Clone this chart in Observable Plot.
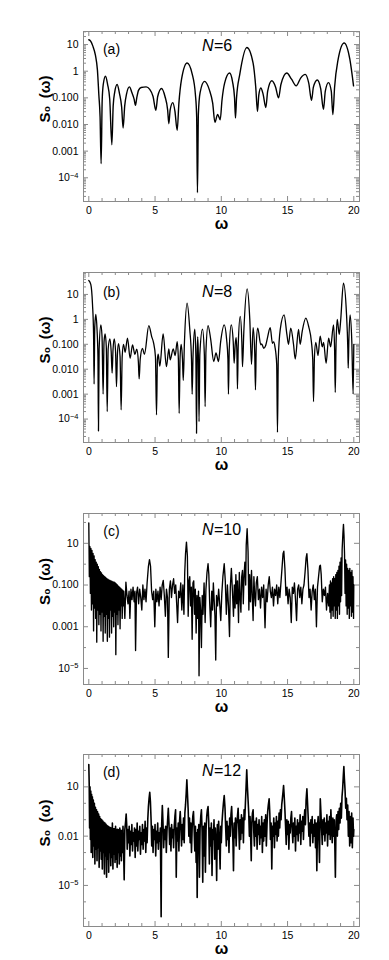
<!DOCTYPE html>
<html><head><meta charset="utf-8">
<script src="https://cdn.jsdelivr.net/npm/d3@7"></script>
<script src="https://cdn.jsdelivr.net/npm/@observablehq/plot@0.6"></script>
<style>
body{margin:0;background:#fff;}
#chart{width:389px;}
#chart > div{height:240px;}
</style></head><body><div id="chart"></div>
<script>
// ---- shared tick values ----
const xTicks = [0, 5, 10, 15, 20];
const xMinor = [1,2,3,4,6,7,8,9,11,12,13,14,16,17,18,19];

const ticksA = [10, 1, 0.1, 0.01, 0.001, 1e-4];
const labelsA = ["10", "1", "0.100", "0.010", "0.001", "10^-4"];
const ticksB = [10, 1, 0.1, 0.01, 0.001, 1e-4];
const labelsB = ["10", "1", "0.100", "0.010", "0.001", "10^-4"];
const ticksC = [10, 0.1, 0.001, 1e-5];
const labelsC = ["10", "0.100", "0.001", "10^-5"];
const ticksD = [10, 0.01, 1e-5];
const labelsD = ["10", "0.01", "10^-5"];

const nLabels = ["6", "8", "10", "12"];
const panelLetters = ["(a)", "(b)", "(c)", "(d)"];

// ---- series: [omega, log10 S0(omega)] ----
const seriesA = [
[0.00,1.18],[0.15,1.12],[0.30,0.95],[0.50,0.6],[0.65,0.05],[0.76,-0.9],[0.85,-1.7],[0.93,-3.47],[1.01,-1.1],[1.09,-0.5],[1.26,-0.19],[1.42,-0.5],[1.58,-1.05],[1.74,-2.76],[1.84,-1.3],[1.95,-0.8],[2.14,-0.5],[2.32,-0.85],[2.48,-1.35],[2.59,-2.13],[2.71,-1.3],[2.85,-0.85],[3.07,-0.59],[3.25,-0.8],[3.42,-1.05],[3.52,-1.28],[3.62,-1.0],[3.75,-0.72],[3.95,-0.61],[4.33,-0.59],[4.6,-0.68],[4.85,-0.95],[5.06,-1.47],[5.2,-0.95],[5.49,-0.65],[5.75,-0.95],[5.95,-1.45],[6.04,-1.97],[6.14,-1.45],[6.34,-1.18],[6.5,-1.5],[6.67,-2.22],[6.8,-1.2],[7.0,-0.3],[7.42,0.31],[7.8,-0.1],[8.05,-0.9],[8.14,-1.7],[8.2,-4.56],[8.27,-1.6],[8.4,-0.8],[8.73,-0.38],[9.1,-0.7],[9.35,-1.2],[9.52,-1.92],[9.72,-1.62],[9.92,-1.82],[10.05,-1.1],[10.25,-0.45],[10.62,-0.07],[10.85,-0.4],[11.0,-1.0],[11.07,-1.76],[11.15,-1.0],[11.4,-0.1],[11.93,0.89],[12.4,0.3],[12.6,-0.6],[12.73,-1.51],[12.83,-0.9],[12.98,-0.63],[13.15,-0.85],[13.36,-1.36],[13.5,-0.75],[13.81,-0.36],[14.1,-0.6],[14.32,-1.0],[14.5,-0.5],[14.94,-0.07],[15.3,-0.3],[15.65,-0.55],[16.0,-0.25],[16.33,-0.12],[16.6,-0.45],[16.81,-1.09],[16.95,-0.6],[17.24,-0.33],[17.5,-0.65],[17.71,-1.43],[17.85,-0.75],[18.09,-0.43],[18.3,-0.75],[18.42,-1.63],[18.55,-0.6],[18.8,0.4],[19.27,1.06],[19.7,0.45],[19.98,-0.55]
];

const seriesB = [
[0.0,1.56],[0.15,1.4],[0.28,0.6],[0.36,-0.6],[0.40,-2.6],[0.45,-0.3],[0.53,0.2],[0.62,-0.4],[0.69,-1.5],[0.73,-4.48],[0.78,-1.2],[0.91,-0.22],[1.0,-0.7],[1.08,-3.0],[1.15,-0.9],[1.23,-0.58],[1.32,-1.1],[1.39,-3.7],[1.46,-1.2],[1.59,-0.78],[1.69,-1.3],[1.76,-2.16],[1.83,-1.2],[1.92,-0.78],[2.02,-1.3],[2.09,-2.7],[2.16,-1.4],[2.24,-0.97],[2.36,-1.5],[2.44,-3.63],[2.52,-1.5],[2.62,-1.0],[2.74,-1.32],[2.92,-0.75],[3.12,-1.56],[3.3,-1.02],[3.48,-1.4],[3.62,-1.2],[3.74,-1.7],[3.8,-2.39],[3.88,-1.6],[4.05,-1.16],[4.2,-1.4],[4.53,-0.25],[4.75,-0.7],[4.88,-0.92],[5.03,-1.5],[5.11,-3.83],[5.18,-1.6],[5.24,-1.4],[5.36,-1.88],[5.61,-0.58],[5.86,-1.9],[6.04,-1.18],[6.14,-1.62],[6.37,-1.18],[6.52,-1.45],[6.67,-0.89],[6.76,-1.6],[6.82,-3.77],[6.89,-1.5],[6.97,-1.0],[7.07,-1.6],[7.13,-2.45],[7.22,-0.9],[7.42,0.65],[7.62,-0.4],[7.75,-1.6],[7.80,-3.0],[7.87,-1.4],[8.0,-0.39],[8.08,-1.5],[8.13,-4.57],[8.18,-1.4],[8.22,-0.7],[8.27,-1.5],[8.32,-4.1],[8.38,-1.4],[8.58,-0.39],[8.72,-1.4],[8.78,-3.5],[8.84,-1.3],[9.0,-0.25],[9.2,-0.8],[9.43,-1.69],[9.6,-1.35],[9.79,-1.69],[9.95,-0.9],[10.22,-0.22],[10.4,-0.8],[10.5,-1.6],[10.54,-3.0],[10.6,-1.2],[10.75,-0.22],[10.9,-0.9],[10.97,-1.76],[11.05,-1.0],[11.12,-0.73],[11.18,-1.4],[11.22,-2.79],[11.28,-1.0],[11.43,0.12],[11.55,-0.9],[11.6,-1.9],[11.7,-0.5],[11.95,1.22],[12.15,0.0],[12.28,-1.8],[12.4,-0.33],[12.52,-1.3],[12.58,-2.83],[12.64,-1.0],[12.75,-0.35],[12.98,-1.02],[13.05,-0.98],[13.2,-1.16],[13.35,-1.05],[13.5,-0.7],[13.69,-0.33],[13.86,-0.96],[13.95,-0.9],[14.05,-1.1],[14.18,-1.8],[14.24,-4.53],[14.3,-1.6],[14.45,-0.4],[14.74,0.18],[14.95,-0.6],[15.07,-1.0],[15.24,-0.35],[15.45,-1.0],[15.58,-1.59],[15.83,-0.4],[15.95,-1.0],[16.1,-0.5],[16.38,0.05],[16.6,-0.3],[16.8,-0.9],[16.9,-1.6],[16.96,-3.3],[17.03,-1.5],[17.13,-0.92],[17.3,-1.45],[17.46,-0.67],[17.62,-1.1],[17.72,-0.92],[17.91,-1.76],[18.1,-0.75],[18.25,-1.1],[18.47,-0.22],[18.55,-1.2],[18.6,-2.93],[18.66,-1.0],[18.75,0.0],[18.9,-0.6],[19.0,-0.1],[19.22,1.45],[19.45,0.2],[19.55,-1.2],[19.58,-1.96],[19.63,-0.8],[19.72,0.18],[19.85,-0.9],[19.95,-3.0],[20.0,-1.0]
];

const seriesC = [
[0.00,1.98],[0.04,-0.6],[0.08,0.85],[0.12,-1.4],[0.16,0.75],[0.20,-2.2],[0.24,0.66],[0.28,-1.9],[0.32,0.52],[0.36,-3.2],[0.40,0.4],[0.44,-2.1],[0.48,0.22],[0.52,-2.6],[0.56,0.1],[0.60,-3.74],[0.64,0.0],[0.68,-2.2],[0.72,-0.12],[0.76,-2.9],[0.80,-0.25],[0.84,-2.4],[0.88,-0.36],[0.92,-3.2],[0.96,-0.42],[1.00,-2.3],[1.04,-0.5],[1.08,-3.7],[1.12,-0.55],[1.16,-2.5],[1.20,-0.6],[1.24,-3.3],[1.28,-0.64],[1.32,-2.4],[1.36,-0.7],[1.40,-3.7],[1.44,-0.72],[1.48,-2.6],[1.52,-0.76],[1.56,-3.5],[1.60,-0.78],[1.64,-2.2],[1.68,-0.8],[1.72,-3.3],[1.76,-0.83],[1.80,-2.5],[1.84,-0.85],[1.88,-3.0],[1.92,-0.86],[1.96,-2.3],[2.00,-0.9],[2.04,-4.34],[2.08,-0.95],[2.12,-2.4],[2.16,-1.0],[2.20,-2.9],[2.24,-1.05],[2.28,-2.2],[2.32,-1.1],[2.36,-3.1],[2.40,-1.15],[2.44,-2.0],[2.48,-1.2],[2.52,-2.6],[2.56,-1.25],[2.60,-2.0],
[2.64,-1.3],[2.72,-2.6],[2.80,-0.86],[2.88,-1.5],[2.96,-1.9],[3.04,-1.3],[3.10,-2.6],[3.18,-1.2],[3.26,-1.7],[3.34,-1.1],[3.42,-1.8],[3.48,-1.3],[3.53,-4.14],[3.60,-1.4],[3.68,-1.1],[3.76,-1.9],[3.84,-1.2],[3.92,-1.6],[4.00,-2.2],[4.08,-1.0],[4.16,-1.7],[4.24,-1.2],[4.32,-1.8],[4.40,-0.9],[4.50,-0.1],[4.58,0.22],[4.66,-0.1],[4.74,-1.3],[4.82,-1.7],[4.90,-1.3],[4.98,-3.0],[5.06,-1.2],[5.14,-1.8],[5.22,-1.3],[5.30,-2.0],[5.38,-1.1],[5.46,-1.7],[5.54,-1.0],[5.62,-0.78],[5.70,-1.5],[5.78,-2.5],[5.86,-1.2],[5.94,-1.6],[6.00,-4.47],[6.08,-1.2],[6.16,-0.8],[6.24,-1.6],[6.32,-1.0],[6.40,-0.7],[6.48,-1.4],[6.56,-1.0],[6.64,-2.0],[6.70,-2.8],[6.78,-1.3],[6.86,-1.6],[6.94,-0.9],[7.02,-2.2],[7.10,-1.0],[7.18,-2.4],[7.24,-0.4],[7.30,0.5],[7.37,1.06],[7.44,0.4],[7.50,-2.5],[7.56,-0.8],[7.62,-0.6],[7.68,-2.0],[7.74,-1.1],[7.80,-3.6],[7.86,-0.9],[7.92,-0.8],[7.98,-2.4],[8.04,-1.2],[8.10,-3.3],[8.16,-1.5],[8.22,-2.6],[8.28,-1.3],[8.32,-5.35],[8.38,-1.6],[8.44,-2.2],[8.50,-4.0],[8.56,-1.5],[8.62,-2.4],[8.70,-0.9],[8.78,-2.8],[8.84,-1.2],[8.92,-0.4],[9.00,0.02],[9.06,-0.5],[9.12,-1.8],[9.20,-3.0],[9.28,-1.3],[9.34,-2.2],[9.40,-0.9],[9.46,-1.7],[9.52,-2.5],[9.58,-4.6],[9.64,-1.5],[9.72,-2.0],[9.80,-1.2],[9.88,-1.9],[9.96,-2.7],[10.04,-1.4],[10.12,-0.6],[10.22,0.02],[10.30,-0.8],[10.38,-2.4],[10.46,-1.0],[10.54,-2.0],[10.62,-3.47],[10.68,-1.1],[10.76,-0.2],[10.84,-1.3],[10.92,-2.5],[10.98,-1.0],[11.04,-2.1],[11.10,-0.5],[11.16,-1.9],[11.22,-0.8],[11.30,-2.8],[11.36,-0.4],[11.42,-1.6],[11.48,-2.3],[11.54,-0.6],[11.60,-0.3],[11.66,-1.9],[11.72,-0.5],[11.78,0.1],[11.84,-1.0],[11.88,0.9],[11.95,1.7],[12.02,0.6],[12.08,-2.2],[12.14,-0.5],[12.20,-1.8],[12.28,-0.3],[12.34,-1.6],[12.40,-2.7],[12.46,-0.6],[12.52,-1.5],[12.58,-2.0],[12.64,-0.9],[12.72,-0.6],[12.80,-1.7],[12.88,-1.2],[12.96,-2.1],[13.04,-1.1],[13.12,-1.6],[13.20,-1.0],[13.30,-3.05],[13.38,-1.2],[13.46,-1.8],[13.54,-1.0],[13.62,-0.6],[13.70,-1.3],[13.78,-1.6],[13.86,-1.1],[13.94,-2.0],[14.02,-1.2],[14.10,-1.5],[14.18,-1.0],[14.26,-1.9],[14.34,-1.1],[14.42,-1.6],[14.50,-0.9],[14.58,-0.2],[14.66,0.5],[14.72,0.62],[14.80,-0.2],[14.88,-1.5],[14.96,-1.1],[15.04,-1.9],[15.12,-1.2],[15.20,-1.6],[15.28,-2.8],[15.36,-1.1],[15.44,-1.4],[15.52,-0.9],[15.60,-1.7],[15.68,-2.7],[15.76,-1.2],[15.84,-1.0],[15.92,-1.6],[16.00,-1.1],[16.08,-1.9],[16.16,-1.2],[16.24,-1.0],[16.32,-0.4],[16.40,0.3],[16.46,0.5],[16.54,-0.3],[16.62,-1.6],[16.70,-1.2],[16.78,-2.2],[16.86,-1.3],[16.94,-1.0],[17.02,-1.7],[17.10,-1.2],[17.18,-3.0],[17.26,-1.1],[17.34,-0.6],[17.42,-0.1],[17.48,-0.05],[17.54,-0.5],[17.62,-1.8],[17.70,-1.2],[17.78,-1.5],[17.86,-1.1],[17.94,-2.2],[18.02,-1.4],[18.10,-2.0],[18.16,-1.0],
[18.20,-2.3],[18.24,-0.8],[18.28,-2.6],[18.32,-0.9],[18.36,-2.2],[18.40,-0.7],[18.44,-2.5],[18.48,-0.6],[18.52,-2.0],[18.56,-0.7],[18.60,-2.6],[18.64,-0.5],[18.68,-2.2],[18.72,-0.4],[18.76,-2.6],[18.80,-0.3],[18.84,-2.0],[18.88,-0.1],[18.92,-2.4],[18.96,0.1],[19.00,-1.8],[19.04,0.3],[19.08,-1.5],[19.12,0.7],[19.18,1.5],[19.22,1.91],[19.26,1.4],[19.30,0.5],[19.34,-1.4],[19.38,0.2],[19.42,-2.0],[19.46,0.0],[19.50,-2.4],[19.54,-0.2],[19.58,-2.1],[19.62,-0.3],[19.66,-2.6],[19.70,-0.2],[19.74,-2.0],[19.78,-0.4],[19.82,-2.5],[19.86,-0.3],[19.90,-2.3],[19.94,-0.6],[19.98,-2.6],[20.00,-1.0]
];

const seriesD = [
[0.00,2.36],[0.03,1.2],[0.06,-1.5],[0.09,1.0],[0.12,-2.2],[0.15,0.75],[0.18,-3.0],[0.21,0.55],[0.24,-2.4],[0.27,0.4],[0.30,-3.3],[0.34,0.2],[0.38,-2.6],[0.42,0.0],[0.46,-3.7],[0.50,-0.24],[0.54,-2.8],[0.58,-0.4],[0.62,-3.5],[0.66,-0.52],[0.70,-2.7],[0.74,-0.65],[0.78,-3.9],[0.82,-0.8],[0.86,-2.9],[0.90,-0.95],[0.94,-3.4],[0.98,-1.0],[1.02,-4.0],[1.06,-1.08],[1.10,-3.0],[1.14,-1.15],[1.18,-4.3],[1.22,-1.2],[1.26,-3.2],[1.30,-1.28],[1.34,-4.5],[1.38,-1.36],[1.42,-3.4],[1.46,-1.4],[1.50,-4.2],[1.54,-1.44],[1.58,-3.0],[1.62,-1.48],[1.66,-3.8],[1.70,-1.5],[1.74,-3.3],[1.78,-1.2],[1.82,-4.0],[1.86,-1.55],[1.90,-3.1],[1.94,-1.56],[1.98,-3.6],[2.02,-1.4],[2.06,-3.4],[2.10,-1.6],[2.14,-3.9],[2.18,-1.58],[2.22,-3.0],[2.26,-1.62],[2.30,-3.7],[2.34,-1.5],[2.38,-3.2],[2.42,-1.64],[2.46,-3.5],[2.50,-1.66],[2.54,-3.0],[2.58,-1.4],[2.62,-2.6],[2.67,-4.66],[2.72,-1.6],[2.78,-1.1],[2.82,-0.65],[2.86,-1.3],[2.90,-2.8],
[2.95,-1.6],[3.00,-2.4],[3.05,-1.4],[3.10,-3.2],[3.15,-1.7],[3.20,-2.5],[3.25,-1.3],[3.30,-2.9],[3.35,-1.8],[3.40,-2.3],[3.45,-1.5],[3.50,-3.3],[3.55,-1.6],[3.60,-2.6],[3.65,-1.2],[3.70,-2.9],[3.75,-1.7],[3.80,-2.2],[3.85,-1.4],[3.90,-3.1],[3.95,-1.8],[4.00,-2.5],[4.05,-1.3],[4.10,-2.8],[4.15,-1.6],[4.20,-2.3],[4.25,-1.1],[4.30,-3.0],[4.35,-1.5],[4.40,-2.4],[4.45,-1.0],[4.50,-0.2],[4.55,0.3],[4.60,0.67],[4.65,0.1],[4.70,-1.0],[4.75,-2.6],[4.80,-1.4],[4.85,-3.0],[4.90,-1.6],[4.95,-2.2],[5.00,-1.3],[5.05,-3.2],[5.10,-1.7],[5.15,-2.4],[5.20,-1.2],[5.25,-2.8],[5.30,-1.8],[5.35,-2.3],[5.40,-1.5],[5.46,-6.9],[5.50,-1.3],[5.55,-0.14],[5.60,-1.2],[5.65,-2.7],[5.70,-1.6],[5.75,-2.2],[5.80,-1.4],[5.85,-3.0],[5.90,-1.7],[5.95,-1.0],[6.00,-0.3],[6.05,-1.2],[6.10,-2.5],[6.15,-1.5],[6.20,-2.9],[6.25,-1.3],[6.30,-2.1],[6.35,-1.6],[6.40,-2.7],[6.45,-1.4],[6.50,-0.8],[6.55,-0.4],[6.60,-4.5],[6.65,-1.5],[6.70,-2.3],[6.75,-1.2],[6.80,-2.9],[6.85,-1.1],[6.90,-0.5],[6.95,-1.4],[7.00,-2.6],[7.05,-1.3],[7.10,-2.2],[7.15,-0.9],[7.20,-2.4],[7.25,-0.6],[7.30,-0.1],[7.35,0.6],[7.40,1.43],[7.45,0.5],[7.50,-0.4],[7.55,-2.0],[7.60,-0.9],[7.65,-2.4],[7.70,-1.2],[7.75,-3.0],[7.80,-1.5],[7.85,-0.8],[7.90,-0.5],[7.95,-1.6],[8.00,-2.9],[8.05,-1.4],[8.10,-3.6],[8.14,-1.8],[8.18,-5.73],[8.22,-1.6],[8.26,-2.6],[8.30,-1.3],[8.35,-4.5],[8.40,-1.5],[8.45,-0.8],[8.50,-0.4],[8.55,-1.7],[8.60,-4.8],[8.65,-1.4],[8.70,-3.2],[8.75,-1.2],[8.80,-4.2],[8.85,-1.6],[8.90,-0.8],[8.95,-0.4],[9.00,-0.2],[9.05,-1.1],[9.10,-3.7],[9.15,-1.5],[9.20,-2.6],[9.25,-1.2],[9.30,-4.4],[9.35,-1.6],[9.40,-2.2],[9.45,-1.0],[9.50,-3.4],[9.55,-1.5],[9.60,-2.4],[9.65,-4.7],[9.70,-1.3],[9.75,-2.8],[9.80,-1.1],[9.85,-2.2],[9.91,-4.0],[9.96,-1.4],
[10.00,-2.4],[10.05,-1.2],[10.10,-0.6],[10.16,0.0],[10.22,0.47],[10.28,-0.3],[10.33,-1.5],[10.38,-2.6],[10.43,-1.1],[10.48,-2.2],[10.53,-1.4],[10.58,-3.0],[10.63,-0.9],[10.68,-2.0],[10.73,-0.7],[10.78,-0.2],[10.83,-1.3],[10.88,-2.4],[10.92,-4.1],[10.97,-1.2],[11.02,-2.1],[11.07,-0.9],[11.12,-2.6],[11.17,-1.3],[11.22,-0.8],[11.27,-0.3],[11.32,-1.5],[11.37,-2.8],[11.42,-1.0],[11.47,-2.2],[11.52,-0.7],[11.57,-1.8],[11.62,-0.9],[11.67,-2.4],[11.72,-0.4],[11.77,-1.0],[11.82,0.0],[11.87,1.0],[11.92,2.04],[11.97,1.0],[12.02,0.2],[12.07,-0.6],[12.12,-2.0],[12.17,-0.8],[12.22,-2.2],[12.26,-3.5],[12.30,-1.2],[12.35,-0.6],[12.40,-0.4],[12.45,-1.7],[12.50,-2.6],[12.55,-1.1],[12.60,-2.0],[12.65,-0.9],[12.70,-2.8],[12.75,-1.3],[12.80,-1.9],[12.85,-1.0],[12.90,-2.5],[12.95,-1.4],[13.00,-2.1],[13.05,-0.8],[13.10,-3.0],[13.15,-1.2],[13.20,-2.3],[13.25,-1.0],[13.30,-2.0],[13.35,-0.7],[13.40,-2.6],[13.45,-1.3],[13.50,-0.5],[13.55,-0.1],[13.61,0.27],[13.66,-0.6],[13.71,-2.2],[13.76,-1.2],[13.81,-4.0],[13.86,-1.4],[13.91,-2.0],[13.96,-0.9],[14.01,-2.7],[14.06,-1.2],[14.11,-1.9],[14.16,-0.8],[14.21,-2.3],[14.26,-1.1],[14.31,-2.0],[14.36,-0.6],[14.41,-1.5],[14.46,-0.4],[14.51,-1.0],[14.56,-0.1],[14.61,0.3],[14.66,0.7],[14.70,1.08],[14.75,0.4],[14.80,-0.4],[14.85,-1.4],[14.90,-2.5],[14.95,-1.0],[15.00,-1.9],[15.05,-1.1],[15.10,-2.8],[15.15,-1.3],[15.20,-1.8],[15.25,-0.9],[15.30,-0.5],[15.35,-1.6],[15.40,-2.4],[15.45,-1.2],[15.50,-2.0],[15.55,-0.9],[15.60,-2.9],[15.65,-1.4],[15.70,-1.9],[15.75,-1.0],[15.80,-2.3],[15.85,-1.2],[15.90,-1.8],[15.95,-0.7],[16.00,-2.5],[16.05,-1.1],[16.10,-1.7],[16.15,-0.8],[16.20,-2.2],[16.25,-1.0],[16.30,-0.4],[16.35,-1.3],[16.40,0.2],[16.46,0.88],[16.51,0.0],[16.56,-0.9],[16.61,-2.0],[16.66,-1.2],[16.71,-2.6],[16.76,-1.0],[16.81,-1.8],[16.86,-0.8],[16.91,-2.4],[16.96,-1.3],[17.01,-2.0],[17.06,-1.0],[17.11,-2.7],[17.16,-1.2],[17.21,-4.1],[17.26,-1.4],[17.31,-0.8],[17.36,-2.0],[17.41,-3.6],[17.47,0.27],[17.52,-0.6],[17.57,-1.6],[17.62,-2.5],[17.67,-1.0],[17.72,-1.9],[17.77,-0.9],[17.82,-2.3],[17.87,-1.2],[17.92,-1.8],[17.97,-0.7],[18.02,-2.6],[18.07,-1.1],[18.12,-1.9],[18.17,-0.8],[18.22,-2.2],[18.27,-0.4],[18.32,-1.4],[18.37,-2.4],[18.42,-0.9],[18.47,-2.0],[18.52,-1.0],[18.57,-2.6],[18.61,-4.5],[18.66,-1.1],[18.71,-0.7],[18.76,-2.0],[18.81,-0.5],[18.86,-1.6],[18.91,-0.3],[18.96,-1.2],[19.01,0.0],[19.06,-0.9],[19.11,0.4],[19.16,0.9],[19.21,1.7],[19.25,2.24],[19.29,1.5],[19.34,0.8],[19.39,-0.3],[19.44,0.3],[19.49,-1.0],[19.54,-0.1],[19.59,-2.0],[19.64,-0.5],[19.69,-2.6],[19.74,-0.8],[19.79,-2.4],[19.84,-0.6],[19.89,-2.7],[19.94,-0.9],[19.98,-2.0],[20.00,-1.6]
];

// ---- panel settings (scales / layout) ----
const W = 389, H = 240, ML = 83, MR = 30;
const panels = [
  {series: seriesA, ticks: ticksA, labels: labelsA, logLo: -4.89, logHi: 1.49, fineMinor: true,  mt: 31, mb: 39, nDy: 8,  lDy: 13, curve: "monotone-x", sw: 1.4},
  {series: seriesB, ticks: ticksB, labels: labelsB, logLo: -4.94, logHi: 1.88, fineMinor: true,  mt: 32, mb: 38, nDy: 13, lDy: 15, curve: "monotone-x", sw: 1.3},
  {series: seriesC, ticks: ticksC, labels: labelsC, logLo: -5.77, logHi: 2.43, fineMinor: false, mt: 33, mb: 36, nDy: 10, lDy: 13, curve: "linear", sw: 1.35},
  {series: seriesD, ticks: ticksD, labels: labelsD, logLo: -7.5,  logHi: 2.97, fineMinor: false, mt: 34, mb: 34, nDy: 10, lDy: 13, curve: "linear", sw: 1.6}
];

const frameColor = "#8a8a8a";
const root = document.getElementById("chart");

panels.forEach((p, i) => {
  const rows = p.series.map(([w, L]) => ({w, s: Math.pow(10, L)}));
  const lo = Math.pow(10, p.logLo), hi = Math.pow(10, p.logHi);
  const labelMap = new Map(p.ticks.map((t, j) => [t, p.labels[j]]));
  const minor = [];
  for (let n = -9; n <= 3; n++) {
    if (p.fineMinor) {
      for (let k = 2; k <= 9; k++) { const v = k * Math.pow(10, n); if (v > lo && v < hi) minor.push(v); }
    } else {
      const v = Math.pow(10, n);
      if (v > lo && v < hi && !p.ticks.some(t => Math.abs(Math.log10(t) - n) < 1e-9)) minor.push(v);
    }
  }
  const fh = H - p.mt - p.mb, fw = W - ML - MR;
  const tickStyle = {stroke: frameColor, strokeWidth: 1};

  const chart = Plot.plot({
    width: W, height: H,
    marginLeft: ML, marginRight: MR, marginTop: p.mt, marginBottom: p.mb,
    style: {fontFamily: "'Liberation Sans', Arial, sans-serif", fontSize: "10px", color: "black", background: "white", overflow: "visible"},
    x: {domain: [-0.4, 20.43]},
    y: {type: "log", domain: [lo, hi]},
    marks: [
      // inward frame ticks
      Plot.ruleX(xTicks, {...tickStyle, insetTop: fh - 5}),
      Plot.ruleX(xTicks, {...tickStyle, insetBottom: fh - 5}),
      Plot.ruleX(xMinor, {...tickStyle, insetTop: fh - 3}),
      Plot.ruleX(xMinor, {...tickStyle, insetBottom: fh - 3}),
      Plot.ruleY(p.ticks, {...tickStyle, insetRight: fw - 5}),
      Plot.ruleY(p.ticks, {...tickStyle, insetLeft: fw - 5}),
      Plot.ruleY(minor, {...tickStyle, insetRight: fw - 3}),
      Plot.ruleY(minor, {...tickStyle, insetLeft: fw - 3}),
      Plot.line(rows, {x: "w", y: "s", curve: p.curve, stroke: "black", strokeWidth: p.sw, clip: true}),
      Plot.frame({stroke: frameColor, strokeWidth: 1}),
      Plot.axisX({ticks: xTicks, tickSize: 0, tickPadding: 5, label: null, fontSize: 10.5}),
      Plot.axisY({ticks: p.ticks, tickFormat: d => labelMap.get(d), tickSize: 0, tickPadding: 5, label: null, fontSize: 10.5}),
      Plot.text(["S\u2080\u2002(\u03C9)"], {text: d => d, frameAnchor: "left", dx: -38, dy: 6, rotate: -90, fontWeight: "bold", fontSize: 15}),
      Plot.text(["\u03C9"], {text: d => d, frameAnchor: "bottom", dy: 27, fontWeight: "bold", fontSize: 16}),
      Plot.text([panelLetters[i]], {text: d => d, frameAnchor: "top-left", dx: 28, dy: p.lDy, fontSize: 14, textAnchor: "middle"}),
      Plot.text(["N"], {text: d => d, frameAnchor: "top-left", dx: 130, dy: p.nDy, fontSize: 16, fontStyle: "italic", textAnchor: "end"}),
      Plot.text(["=" + nLabels[i]], {text: d => d, frameAnchor: "top-left", dx: 130.5, dy: p.nDy, fontSize: 16, textAnchor: "start"})
    ]
  });
  // render "10^-n" tick labels with a real superscript
  d3.select(chart).selectAll("text").each(function () {
    const t = this.textContent;
    const m = /^10\^(-\d+)$/.exec(t);
    if (m) {
      const sel = d3.select(this);
      sel.text("10");
      sel.append("tspan").attr("dy", "-0.45em").attr("font-size", "7.5px").text("\u2212" + m[1].slice(1));
    }
  });
  const holder = document.createElement("div");
  holder.appendChild(chart);
  root.appendChild(holder);
});
</script>
</body></html>
